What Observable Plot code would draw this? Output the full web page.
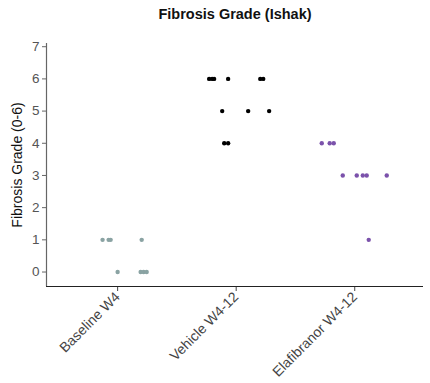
<!DOCTYPE html>
<html>
<head>
<meta charset="utf-8">
<script src="https://cdn.jsdelivr.net/npm/d3@7"></script>
<script src="https://cdn.jsdelivr.net/npm/@observablehq/plot@0.6"></script>
<style>
  html, body { margin: 0; padding: 0; background: #fff; }
  svg { font-family: "Liberation Sans", Arial, sans-serif; }
</style>
</head>
<body>
<div id="chart"></div>
<script>
const categories = ["Baseline W4", "Vehicle W4-12", "Elafibranor W4-12"];
const colors = ["#8aa3a3", "#000000", "#7b52ab"];
const yTicks = [0, 1, 2, 3, 4, 5, 6, 7];

// Fibrosis grades per group, with horizontal jitter (in category-step units)
const baselineValues = [1, 1, 1, 1, 0, 0, 0, 0];
const baselineJitter = [-0.127, -0.076, -0.059, 0.203, 0.0, 0.194, 0.219, 0.245];
const vehicleValues = [6, 6, 6, 6, 6, 6, 5, 5, 5, 4, 4];
const vehicleJitter = [-0.228, -0.203, -0.186, -0.068, 0.203, 0.228, -0.118, 0.101, 0.278, -0.101, -0.068];
const elafibranorValues = [4, 4, 4, 3, 3, 3, 3, 3, 1];
const elafibranorJitter = [-0.278, -0.211, -0.177, -0.101, 0.017, 0.068, 0.101, 0.270, 0.118];

const groups = [
  [baselineValues, baselineJitter],
  [vehicleValues, vehicleJitter],
  [elafibranorValues, elafibranorJitter]
];
const points = groups.flatMap(([vals, jit], gi) =>
  vals.map((v, i) => ({group: categories[gi], gi, pos: gi + jit[i], value: v})));

const chart = Plot.plot({
  width: 430,
  height: 383,
  marginLeft: 46,
  marginRight: 7,
  marginTop: 43,
  marginBottom: 97,
  style: {fontSize: "13px", fontFamily: "'Liberation Sans', Arial, sans-serif", color: "#555"},
  x: {domain: [-0.6, 2.58], axis: null},
  y: {domain: [-0.45, 7.1], axis: null},
  color: {domain: categories, range: colors},
  marks: [
    Plot.text(["Fibrosis Grade (Ishak)"], {frameAnchor: "top", dy: -35, fontWeight: "bold", fontSize: 14.5, fill: "#111"}),
    Plot.axisY(yTicks, {tickSize: 4, tickPadding: 3, stroke: "#666", fill: "#555", fontSize: 13.5, label: null}),
    Plot.text(["Fibrosis Grade (0-6)"], {frameAnchor: "left", dx: -29, rotate: -90, textAnchor: "middle", fill: "#111", fontSize: 14}),
    Plot.axisX([0, 1, 2], {tickSize: 5, stroke: "#444", tickFormat: (d) => categories[d], tickRotate: -45, fill: "#444", fontSize: 14, label: null, tickPadding: 3}),
    Plot.ruleY([-0.45], {stroke: "#222", strokeWidth: 1.2}),
    Plot.ruleX([-0.6], {y1: -0.45, y2: 7.1, stroke: "#666", strokeWidth: 1.2}),
    Plot.dot(points, {x: "pos", y: "value", fill: "group", r: 2.2, stroke: null})
  ]
});
document.getElementById("chart").appendChild(chart);
</script>
</body>
</html>
